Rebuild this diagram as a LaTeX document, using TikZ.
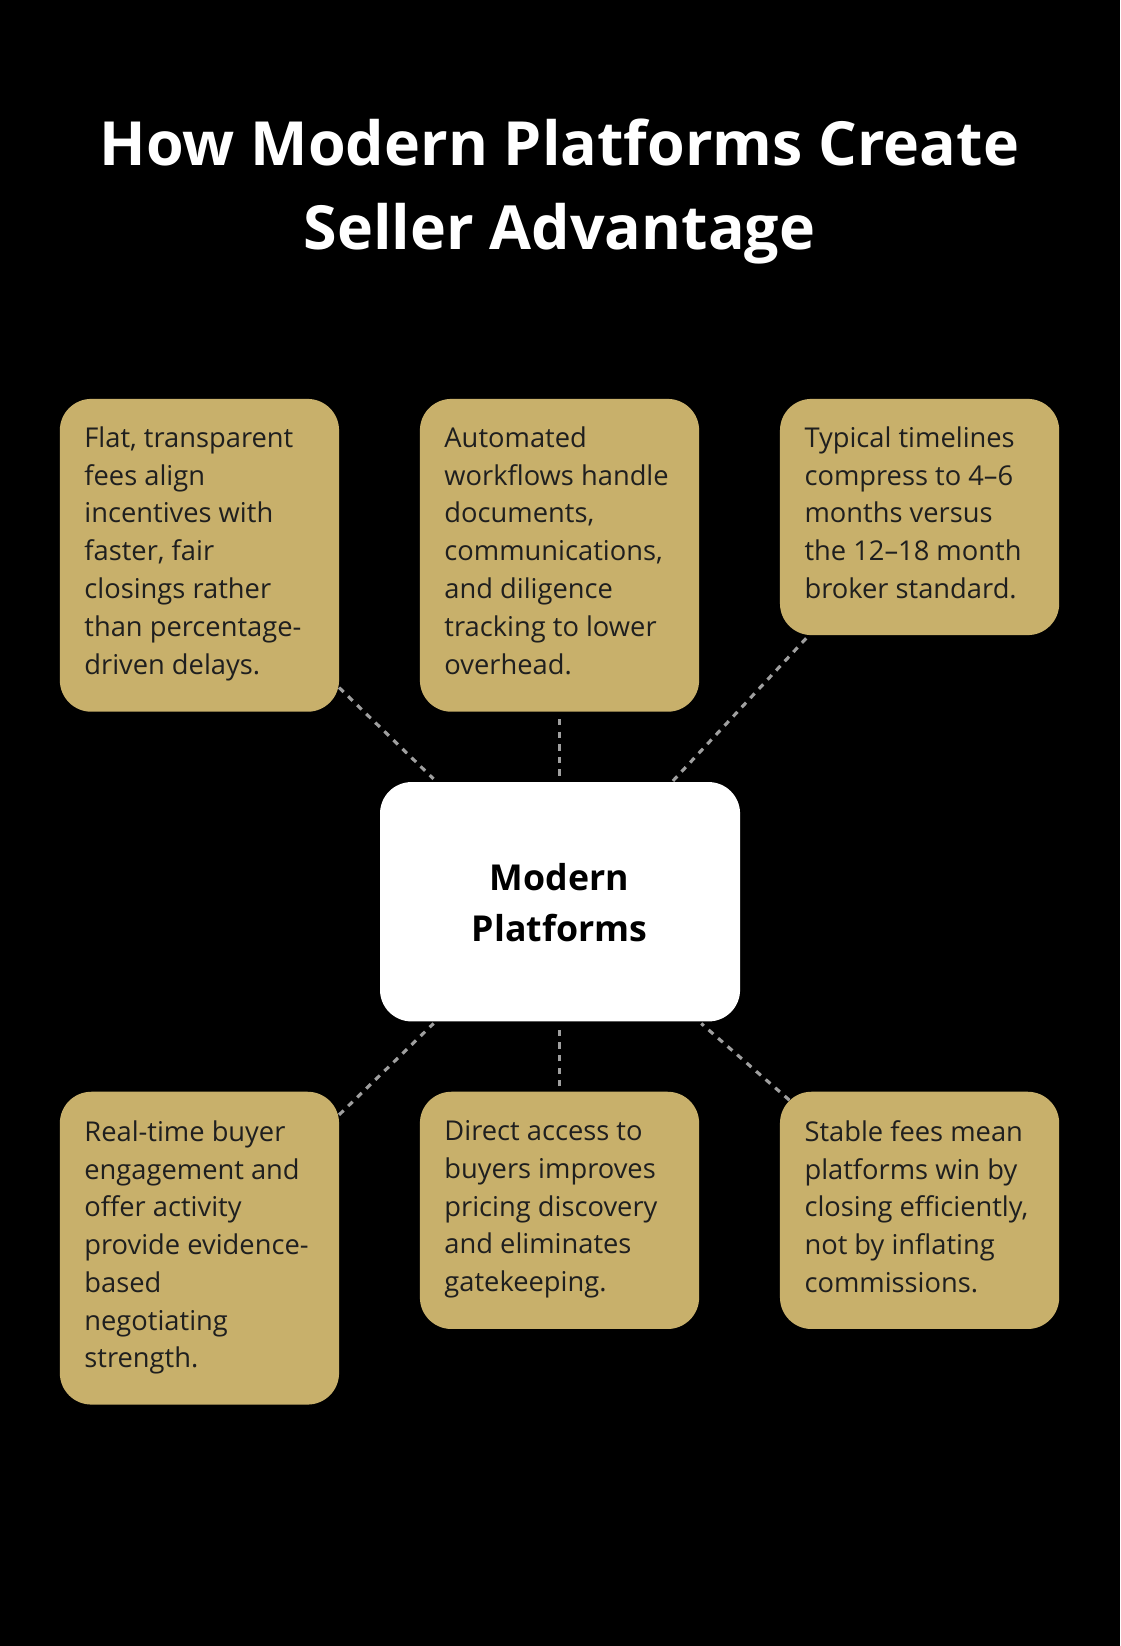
\documentclass[tikz,border=0pt]{standalone}
\usepackage{fontspec}
\setmainfont{Open Sans}
\begin{document}
\begin{tikzpicture}[x=0.5pt,y=-0.5pt,
  card/.style={fill=gold,rounded corners=15pt,draw=none},
  txt/.style={anchor=north west,inner sep=0pt,align=left,text=black!88,font=\fontsize{13}{18}\selectfont},
  link/.style={draw=gray!75,line width=1.5pt,dash pattern=on 3pt off 3pt}]
\definecolor{gold}{HTML}{C8B06B}
\fill[black] (0,0) rectangle (1067,1568);
\useasboundingbox (0,0) rectangle (1067,1568);
\node[text=white,font=\bfseries\fontsize{29}{40}\selectfont,align=center] (title) at (533,182) {How Modern Platforms Create\\Seller Advantage};
\fill[card] (57,380) rectangle (323,678);
\fill[card] (400,380) rectangle (666,678);
\fill[card] (743,380) rectangle (1009,605);
\fill[card] (57,1040) rectangle (323,1338);
\fill[card] (400,1040) rectangle (666,1266);
\fill[card] (743,1040) rectangle (1009,1266);
\fill[white,rounded corners=15pt] (362,745) rectangle (705,973);
\node[font=\bfseries\fontsize{17}{24}\selectfont,align=center] (c) at (533,860) {Modern\\Platforms};
\node[txt] (a) at (80,406) {Flat, transparent\\fees align\\incentives with\\faster, fair\\closings rather\\than percentage-\\driven delays.};
\node[txt] (b) at (423,406) {Automated\\workflows handle\\documents,\\communications,\\and diligence\\tracking to lower\\overhead.};
\node[txt] (d) at (766,406) {Typical timelines\\compress to 4–6\\months versus\\the 12–18 month\\broker standard.};
\node[txt] (e) at (80,1067) {Real-time buyer\\engagement and\\offer activity\\provide evidence-\\based\\negotiating\\strength.};
\node[txt] (f) at (423,1067) {Direct access to\\buyers improves\\pricing discovery\\and eliminates\\gatekeeping.};
\node[txt] (g) at (766,1067) {Stable fees mean\\platforms win by\\closing efficiently,\\not by inflating\\commissions.};
\coordinate (a1) at (323,655); \coordinate (c1) at (413,742);
\coordinate (b1) at (533,685); \coordinate (c2) at (533,740);
\coordinate (d1) at (768,608); \coordinate (c3) at (640,745);
\coordinate (e1) at (323,1062); \coordinate (c4) at (413,975);
\coordinate (f1) at (533,1035); \coordinate (c5) at (533,980);
\coordinate (g1) at (752,1048); \coordinate (c6) at (668,975);
\draw[link] (a1) -- (c1); \draw[link] (b1) -- (c2); \draw[link] (d1) -- (c3);
\draw[link] (e1) -- (c4); \draw[link] (f1) -- (c5); \draw[link] (g1) -- (c6);
\end{tikzpicture}
\end{document}
